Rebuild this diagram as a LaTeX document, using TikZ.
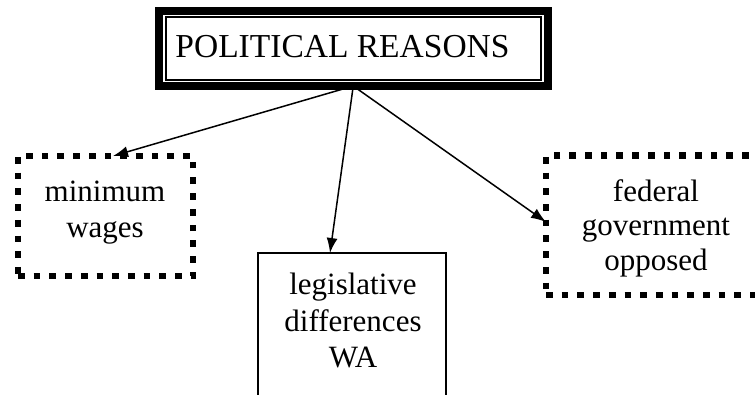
\documentclass[tikz,border=0pt]{standalone}
\usepackage{fontspec}
\setmainfont{Liberation Serif}
\usetikzlibrary{arrows.meta}
\begin{document}
\begin{tikzpicture}[x=1pt,y=-1pt,
  frame/.style={draw, inner sep=0pt, outer sep=0pt, minimum width=#1},
  titleframe/.style={frame=388.5pt, line width=8pt, minimum height=75.5pt},
  titleinner/.style={frame=375pt, line width=2pt, minimum height=62.5pt},
  dotbox/.style={frame=#1, line width=6.7pt, dash pattern=on 6.7pt off 9pt},
  plainbox/.style={frame=#1, line width=2pt},
  titletext/.style={inner sep=0pt, font=\fontsize{33.5}{38}\selectfont},
  boxtext/.style={inner sep=0pt, align=center, font=\fontsize{31}{36.7}\selectfont},
  link/.style={line width=1.5pt, -{Latex[length=15pt,width=11pt]}}]
  \useasboundingbox (0,0) rectangle (755,394);
  \clip (0,0) rectangle (755,394);

  % heading with a heavy outer frame and a thin inner frame
  \node[titleframe] (title) at (353.25,48.25) {};
  \node[titleinner] (titlein) at (353,48.25) {};
  \node[titletext, anchor=base] (titletxt) at (342.5,57) {POLITICAL REASONS};

  % the three reasons
  \node[dotbox=175pt, minimum height=120pt] (wages) at (105.5,216) {};
  \node[boxtext] (wagestxt) at (105,212.5) {minimum\\wages};

  \node[plainbox=188.5pt, minimum height=187pt] (legis) at (351.75,346.5) {};
  \node[boxtext] (legistxt) at (353,320.5) {legislative\\differences\\WA};

  \node[dotbox=220pt, minimum height=139.5pt] (federal) at (656,225.25) {};
  \node[boxtext, font=\fontsize{31}{34.5}\selectfont] (federaltxt) at (656,228.3) {federal\\government\\opposed};

  % connectors from the heading
  \draw[link] (title.south) -- ([xshift=7.5pt]wages.north);
  \draw[link] (title.south) -- ([xshift=-21.75pt]legis.north);
  \draw[link] (title.south) -- ([yshift=3.25pt]federal.west);
\end{tikzpicture}
\end{document}
